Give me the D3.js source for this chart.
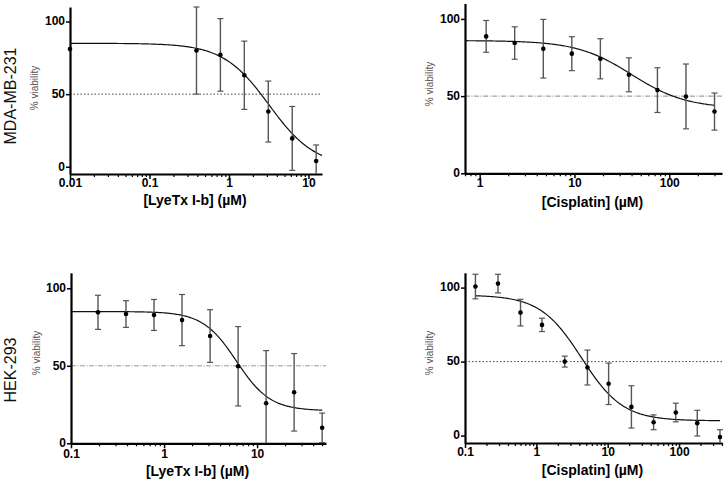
<!DOCTYPE html>
<html>
<head>
<meta charset="utf-8">
<script src="https://cdn.jsdelivr.net/npm/d3@7"></script>
<style>
  html, body { margin: 0; padding: 0; background: #fff; }
  svg { display: block; }
  text { font-family: "Liberation Sans", Arial, sans-serif; }
</style>
</head>
<body>
<svg id="chart" width="726" height="481"></svg>
<script>
// ---------- DATA ----------
// Row labels
const rowLabels = ["MDA-MB-231", "HEK-293"];

// Panel A: LyeTx I-b on MDA-MB-231
const lyeMdaConc = [0.01, 0.39, 0.78, 1.56, 3.125, 6.25, 12.5];
const lyeMdaViab = [81, 80, 77, 63, 38, 19.5, 4];
const lyeMdaErr  = [0, 30, 25, 23.5, 21, 22, 11];
const lyeMdaFit  = [85, 0, 3.2, 1.5];          // top, bottom, EC50, Hill
const lyeMdaTicks = [0.01, 0.1, 1, 10];
const lyeMdaTickLabels = ["0.01", "0.1", "1", "10"];

// Panel B: Cisplatin on MDA-MB-231
const cisMdaConc = [1.17, 2.34, 4.69, 9.375, 18.75, 37.5, 75, 150, 300];
const cisMdaViab = [88.7, 84.4, 80.7, 77.5, 74.2, 63.8, 53.9, 49.8, 40];
const cisMdaErr  = [10.3, 10.5, 19, 11, 13, 11, 14.5, 21, 12];
const cisMdaFit  = [86, 42, 40, 1.5];
const cisMdaTicks = [1, 10, 100];
const cisMdaTickLabels = ["1", "10", "100"];

// Panel C: LyeTx I-b on HEK-293
const lyeHekConc = [0.195, 0.39, 0.78, 1.56, 3.125, 6.25, 12.5, 25, 50];
const lyeHekViab = [84.5, 83.4, 82.8, 79.5, 69.2, 49.7, 25.8, 32.9, 10];
const lyeHekErr  = [11, 8.6, 10, 16.5, 17, 25.6, 34, 25, 9.5];
const lyeHekFit  = [85, 21, 6, 2.4];
const lyeHekTicks = [0.1, 1, 10];
const lyeHekTickLabels = ["0.1", "1", "10"];

// Panel D: Cisplatin on HEK-293
const cisHekConc = [0.14, 0.29, 0.6, 1.2, 2.5, 5.2, 10.3, 21.5, 44, 90, 180, 375];
const cisHekViab = [100.7, 102.7, 83.1, 74.8, 50, 46, 35, 19.4, 9, 15.6, 8.4, -1];
const cisHekErr  = [8.3, 6.3, 9, 4.5, 3.7, 11.8, 14, 14.3, 5, 6.3, 8.7, 5];
const cisHekFit  = [95, 10, 4.3, 1.5];
const cisHekTicks = [0.1, 1, 10, 100];
const cisHekTickLabels = ["0.1", "1", "10", "100"];

const yTicks = [0, 50, 100];
const yTickLabels = ["0", "50", "100"];
const yLabel = "% viability";
const xLabelLye = "[LyeTx I-b] (\u00b5M)";
const xLabelCis = "[Cisplatin] (\u00b5M)";

// ---------- LAYOUT ----------
const panels = [
  { conc: lyeMdaConc, viab: lyeMdaViab, err: lyeMdaErr, fit: lyeMdaFit,
    ticks: lyeMdaTicks, tickLabels: lyeMdaTickLabels, xlabel: xLabelLye,
    xdom: [0.01, 14.8], xr: [70, 322], ydom: [-5, 110], yr: [174, 7],
    curve: [0.01, 14.8], ref: {dash: "1.5,2", color: "#444"},
    ylabX: 38, ylabY: 88, xlabY: 205, tickY: 187 },
  { conc: cisMdaConc, viab: cisMdaViab, err: cisMdaErr, fit: cisMdaFit,
    ticks: cisMdaTicks, tickLabels: cisMdaTickLabels, xlabel: xLabelCis,
    xdom: [0.7, 360], xr: [465, 722], ydom: [0, 110], yr: [173.3, 3.5],
    curve: [0.7, 300], ref: {dash: "5,1.5,1,1.5", color: "#888"},
    ylabX: 433, ylabY: 84, xlabY: 207, tickY: 187 },
  { conc: lyeHekConc, viab: lyeHekViab, err: lyeHekErr, fit: lyeHekFit,
    ticks: lyeHekTicks, tickLabels: lyeHekTickLabels, xlabel: xLabelLye,
    xdom: [0.1, 55], xr: [71, 326], ydom: [0, 110], yr: [443.3, 272.8],
    curve: [0.1, 50], ref: {dash: "5,1.5,1,1.5", color: "#999"},
    ylabX: 40, ylabY: 353, xlabY: 476, tickY: 458.5 },
  { conc: cisHekConc, viab: cisHekViab, err: cisHekErr, fit: cisHekFit,
    ticks: cisHekTicks, tickLabels: cisHekTickLabels, xlabel: xLabelCis,
    xdom: [0.1, 400], xr: [465, 722], ydom: [-5, 110], yr: [443, 272.8],
    curve: [0.14, 375], ref: {dash: "1.5,2", color: "#444"},
    ylabX: 433, ylabY: 353, xlabY: 475, tickY: 456 }
];

const svg = d3.select("#chart");

// Row labels
[[12, 96], [12, 370]].forEach((p, i) => {
  svg.append("text")
    .attr("transform", `translate(${p[0] + 4},${p[1]}) rotate(-90)`)
    .attr("text-anchor", "middle")
    .attr("font-size", 16)
    .attr("fill", "#111")
    .text(rowLabels[i]);
});

function logistic(f, x) {
  const [top, bottom, ec50, hill] = f;
  return bottom + (top - bottom) / (1 + Math.pow(x / ec50, hill));
}

panels.forEach((p, pi) => {
  const x = d3.scaleLog().domain(p.xdom).range(p.xr);
  const y = d3.scaleLinear().domain(p.ydom).range(p.yr);
  const g = svg.append("g");

  // reference line at 50%
  g.append("line")
    .attr("x1", p.xr[0]).attr("x2", p.xr[1])
    .attr("y1", y(50)).attr("y2", y(50))
    .attr("stroke", p.ref.color).attr("stroke-width", 1)
    .attr("stroke-dasharray", p.ref.dash);

  // minor ticks
  const minors = [];
  const lo = Math.floor(Math.log10(p.xdom[0])), hi = Math.ceil(Math.log10(p.xdom[1]));
  for (let e = lo; e <= hi; e++) {
    for (let k = 2; k <= 9; k++) {
      const v = k * Math.pow(10, e);
      if (v >= p.xdom[0] && v <= p.xdom[1]) minors.push(v);
    }
  }
  const xMinor = g.append("g").attr("transform", `translate(0,${p.yr[0]})`)
    .call(d3.axisBottom(x).tickValues(minors).tickSize(3).tickSizeOuter(0).tickFormat(""));
  xMinor.select(".domain").remove();
  xMinor.selectAll(".tick line").attr("stroke", "#000").attr("stroke-width", 1.2);

  // x axis
  const xAxis = g.append("g").attr("transform", `translate(0,${p.yr[0]})`)
    .call(d3.axisBottom(x).tickValues(p.ticks).tickSize(5).tickSizeOuter(0)
      .tickFormat((d, i) => p.tickLabels[i]));
  xAxis.select(".domain").attr("stroke", "#000").attr("stroke-width", 2.2);
  xAxis.selectAll(".tick line").attr("stroke", "#000").attr("stroke-width", 1.5);
  xAxis.selectAll(".tick text")
    .attr("y", null).attr("dy", null)
    .attr("y", p.tickY - p.yr[0])
    .attr("font-size", 12).attr("font-weight", "bold")
    .attr("font-family", "Liberation Sans, Arial, sans-serif").attr("fill", "#000");

  // y axis
  const yAxis = g.append("g").attr("transform", `translate(${p.xr[0]},0)`)
    .call(d3.axisLeft(y).tickValues(yTicks).tickSize(4).tickSizeOuter(0)
      .tickFormat((d, i) => yTickLabels[i]));
  yAxis.select(".domain").attr("stroke", "#000").attr("stroke-width", 2.2);
  yAxis.selectAll(".tick line").attr("stroke", "#000").attr("stroke-width", 1.5);
  yAxis.selectAll(".tick text")
    .attr("x", -5).attr("dy", "0.28em")
    .attr("font-size", 12).attr("font-weight", "bold")
    .attr("font-family", "Liberation Sans, Arial, sans-serif").attr("fill", "#000");

  // axis labels
  g.append("text")
    .attr("x", (p.xr[0] + p.xr[1]) / 2 - 1).attr("y", p.xlabY)
    .attr("text-anchor", "middle")
    .attr("font-size", 14).attr("font-weight", "bold").attr("fill", "#000")
    .text(p.xlabel);
  g.append("text")
    .attr("transform", `translate(${p.ylabX},${p.ylabY}) rotate(-90)`)
    .attr("text-anchor", "middle")
    .attr("font-size", 10).attr("fill", "#5a5252")
    .text(yLabel);

  // fitted curve
  const n = 200;
  const l0 = Math.log10(p.curve[0]), l1 = Math.log10(p.curve[1]);
  const pts = d3.range(n + 1).map(i => {
    const xv = Math.pow(10, l0 + (l1 - l0) * i / n);
    return [xv, logistic(p.fit, xv)];
  });
  g.append("path")
    .datum(pts)
    .attr("fill", "none").attr("stroke", "#111").attr("stroke-width", 1.2)
    .attr("d", d3.line().x(d => x(d[0])).y(d => y(d[1])));

  // error bars
  const clampY = v => Math.max(p.ydom[0], Math.min(p.ydom[1], v));
  p.conc.forEach((c, i) => {
    const e = p.err[i];
    if (e <= 0) return;
    const cx = x(c);
    const yt = y(clampY(p.viab[i] + e)), yb = y(clampY(p.viab[i] - e));
    g.append("line").attr("x1", cx).attr("x2", cx).attr("y1", yt).attr("y2", yb)
      .attr("stroke", "#555").attr("stroke-width", 1.4);
    [[p.viab[i] + e, yt], [p.viab[i] - e, yb]].forEach(([v, yy]) => {
      if (v <= p.ydom[1] && v >= p.ydom[0]) {
        g.append("line").attr("x1", cx - 3).attr("x2", cx + 3).attr("y1", yy).attr("y2", yy)
          .attr("stroke", "#555").attr("stroke-width", 1.2);
      }
    });
  });

  // points
  g.selectAll("circle.pt").data(p.conc).join("circle")
    .attr("class", "pt")
    .attr("cx", d => x(d))
    .attr("cy", (d, i) => y(p.viab[i]))
    .attr("r", 2.3)
    .attr("fill", "#000");
});
</script>
</body>
</html>
